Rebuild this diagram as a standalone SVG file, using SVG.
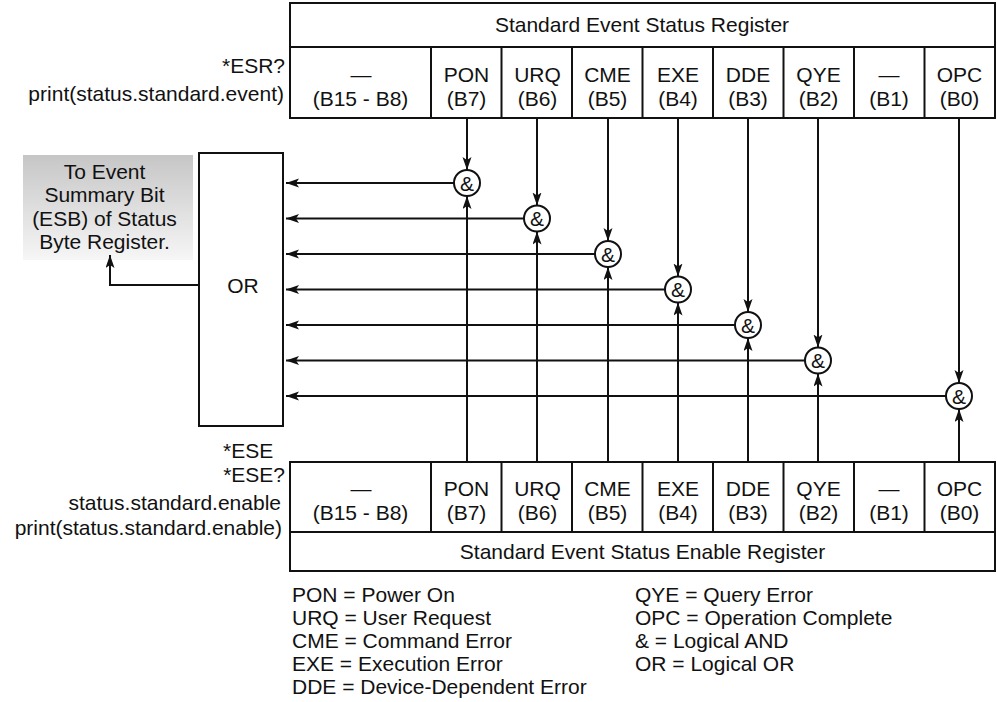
<svg xmlns="http://www.w3.org/2000/svg" width="997" height="702" viewBox="0 0 997 702">
<style>
text{font-family:"Liberation Sans",Arial,sans-serif;font-size:21px;fill:#111}
.c{text-anchor:middle}
.e{text-anchor:end}
.box{fill:#fff;stroke:#111;stroke-width:2}
.ln{fill:none;stroke:#111;stroke-width:2}
.w{stroke:#111;stroke-width:2;fill:none}
.and{fill:#fff;stroke:#111;stroke-width:2}
</style>
<defs>
<marker id="ah" markerUnits="userSpaceOnUse" markerWidth="14" markerHeight="10" refX="13" refY="4.5" orient="auto">
<path d="M0,0 L13,4.5 L0,9 L3,4.5 z" fill="#111"/>
</marker>
<linearGradient id="g" x1="0" y1="0" x2="0" y2="1">
<stop offset="0" stop-color="#c6c6c6"/>
<stop offset="1" stop-color="#f6f6f6"/>
</linearGradient>
</defs>

<g id="esr-register">
<rect class="box" x="290" y="3" width="705" height="115"/>
<line class="w" x1="290" y1="47" x2="995" y2="47"/>
<line class="w" x1="431" y1="47" x2="431" y2="118"/>
<line class="w" x1="501.5" y1="47" x2="501.5" y2="118"/>
<line class="w" x1="572" y1="47" x2="572" y2="118"/>
<line class="w" x1="642.5" y1="47" x2="642.5" y2="118"/>
<line class="w" x1="713" y1="47" x2="713" y2="118"/>
<line class="w" x1="783.5" y1="47" x2="783.5" y2="118"/>
<line class="w" x1="854" y1="47" x2="854" y2="118"/>
<line class="w" x1="924.5" y1="47" x2="924.5" y2="118"/>
<text class="c" x="642" y="32">Standard Event Status Register</text>
<text class="c" x="361" y="82">—</text><text class="c" x="360.5" y="106">(B15 - B8)</text>
<text class="c" x="466.5" y="82">PON</text><text class="c" x="466.5" y="106">(B7)</text>
<text class="c" x="537.5" y="82">URQ</text><text class="c" x="537.5" y="106">(B6)</text>
<text class="c" x="607.5" y="82">CME</text><text class="c" x="607.5" y="106">(B5)</text>
<text class="c" x="678" y="82">EXE</text><text class="c" x="678" y="106">(B4)</text>
<text class="c" x="748" y="82">DDE</text><text class="c" x="748" y="106">(B3)</text>
<text class="c" x="818.5" y="82">QYE</text><text class="c" x="818.5" y="106">(B2)</text>
<text class="c" x="889" y="82">—</text><text class="c" x="889" y="106">(B1)</text>
<text class="c" x="959.5" y="82">OPC</text><text class="c" x="959.5" y="106">(B0)</text>
</g>

<g id="esr-labels">
<text class="e" x="285" y="73">*ESR?</text>
<text class="e" x="284" y="101">print(status.standard.event)</text>
</g>

<g id="ese-register">
<rect class="box" x="290" y="462" width="705" height="109"/>
<line class="w" x1="290" y1="532" x2="995" y2="532"/>
<line class="w" x1="431" y1="462" x2="431" y2="532"/>
<line class="w" x1="501.5" y1="462" x2="501.5" y2="532"/>
<line class="w" x1="572" y1="462" x2="572" y2="532"/>
<line class="w" x1="642.5" y1="462" x2="642.5" y2="532"/>
<line class="w" x1="713" y1="462" x2="713" y2="532"/>
<line class="w" x1="783.5" y1="462" x2="783.5" y2="532"/>
<line class="w" x1="854" y1="462" x2="854" y2="532"/>
<line class="w" x1="924.5" y1="462" x2="924.5" y2="532"/>
<text class="c" x="361" y="496">—</text><text class="c" x="360.5" y="520">(B15 - B8)</text>
<text class="c" x="466.5" y="496">PON</text><text class="c" x="466.5" y="520">(B7)</text>
<text class="c" x="537.5" y="496">URQ</text><text class="c" x="537.5" y="520">(B6)</text>
<text class="c" x="607.5" y="496">CME</text><text class="c" x="607.5" y="520">(B5)</text>
<text class="c" x="678" y="496">EXE</text><text class="c" x="678" y="520">(B4)</text>
<text class="c" x="748" y="496">DDE</text><text class="c" x="748" y="520">(B3)</text>
<text class="c" x="818.5" y="496">QYE</text><text class="c" x="818.5" y="520">(B2)</text>
<text class="c" x="889" y="496">—</text><text class="c" x="889" y="520">(B1)</text>
<text class="c" x="959.5" y="496">OPC</text><text class="c" x="959.5" y="520">(B0)</text>
<text class="c" x="642.5" y="559">Standard Event Status Enable Register</text>
</g>

<g id="ese-labels">
<text x="223" y="458">*ESE</text>
<text class="e" x="285" y="482">*ESE?</text>
<text class="e" x="281" y="510">status.standard.enable</text>
<text class="e" x="282" y="535">print(status.standard.enable)</text>
</g>

<g id="esb-target">
<rect x="23" y="155" width="170" height="105" fill="url(#g)"/>
<text class="c" x="104.5" y="178.5">To Event</text>
<text class="c" x="104.5" y="202">Summary Bit</text>
<text class="c" x="104.5" y="225.5">(ESB) of Status</text>
<text class="c" x="104.5" y="249">Byte Register.</text>
</g>

<g id="or-gate">
<rect class="box" x="199" y="153" width="84" height="273"/>
<text class="c" x="243" y="293">OR</text>
</g>

<g id="connectors">
<polyline class="ln" points="199,285 110,285 110,255" marker-end="url(#ah)"/>
<!-- top verticals -->
<line class="ln" x1="467" y1="118" x2="467" y2="170" marker-end="url(#ah)"/>
<line class="ln" x1="537" y1="118" x2="537" y2="205.5" marker-end="url(#ah)"/>
<line class="ln" x1="608" y1="118" x2="608" y2="241" marker-end="url(#ah)"/>
<line class="ln" x1="678" y1="118" x2="678" y2="276.5" marker-end="url(#ah)"/>
<line class="ln" x1="748" y1="118" x2="748" y2="312" marker-end="url(#ah)"/>
<line class="ln" x1="818" y1="118" x2="818" y2="347.5" marker-end="url(#ah)"/>
<line class="ln" x1="959" y1="118" x2="959" y2="383" marker-end="url(#ah)"/>
<!-- bottom verticals -->
<line class="ln" x1="467" y1="462" x2="467" y2="196" marker-end="url(#ah)"/>
<line class="ln" x1="537" y1="462" x2="537" y2="231.5" marker-end="url(#ah)"/>
<line class="ln" x1="608" y1="462" x2="608" y2="267" marker-end="url(#ah)"/>
<line class="ln" x1="678" y1="462" x2="678" y2="302.5" marker-end="url(#ah)"/>
<line class="ln" x1="748" y1="462" x2="748" y2="338" marker-end="url(#ah)"/>
<line class="ln" x1="818" y1="462" x2="818" y2="373.5" marker-end="url(#ah)"/>
<line class="ln" x1="959" y1="462" x2="959" y2="409" marker-end="url(#ah)"/>
<!-- horizontals to OR -->
<line class="ln" x1="454" y1="183" x2="286" y2="183" marker-end="url(#ah)"/>
<line class="ln" x1="524" y1="218.5" x2="286" y2="218.5" marker-end="url(#ah)"/>
<line class="ln" x1="595" y1="254" x2="286" y2="254" marker-end="url(#ah)"/>
<line class="ln" x1="665" y1="289.5" x2="286" y2="289.5" marker-end="url(#ah)"/>
<line class="ln" x1="735" y1="325" x2="286" y2="325" marker-end="url(#ah)"/>
<line class="ln" x1="805" y1="360.5" x2="286" y2="360.5" marker-end="url(#ah)"/>
<line class="ln" x1="946" y1="396" x2="286" y2="396" marker-end="url(#ah)"/>
</g>

<g id="and-pon"><circle class="and" cx="467" cy="183" r="13"/><text class="c" x="467" y="190.5">&amp;</text></g>
<g id="and-urq"><circle class="and" cx="537" cy="218.5" r="13"/><text class="c" x="537" y="226">&amp;</text></g>
<g id="and-cme"><circle class="and" cx="608" cy="254" r="13"/><text class="c" x="608" y="261.5">&amp;</text></g>
<g id="and-exe"><circle class="and" cx="678" cy="289.5" r="13"/><text class="c" x="678" y="297">&amp;</text></g>
<g id="and-dde"><circle class="and" cx="748" cy="325" r="13"/><text class="c" x="748" y="332.5">&amp;</text></g>
<g id="and-qye"><circle class="and" cx="818" cy="360.5" r="13"/><text class="c" x="818" y="368">&amp;</text></g>
<g id="and-opc"><circle class="and" cx="959" cy="396" r="13"/><text class="c" x="959" y="403.5">&amp;</text></g>

<g id="legend">
<text x="292" y="602">PON = Power On</text>
<text x="292" y="625">URQ = User Request</text>
<text x="292" y="648">CME = Command Error</text>
<text x="292" y="671">EXE = Execution Error</text>
<text x="292" y="694">DDE = Device-Dependent Error</text>
<text x="635" y="602">QYE = Query Error</text>
<text x="635" y="625">OPC = Operation Complete</text>
<text x="635" y="648">&amp; = Logical AND</text>
<text x="635" y="671">OR = Logical OR</text>
</g>
</svg>
